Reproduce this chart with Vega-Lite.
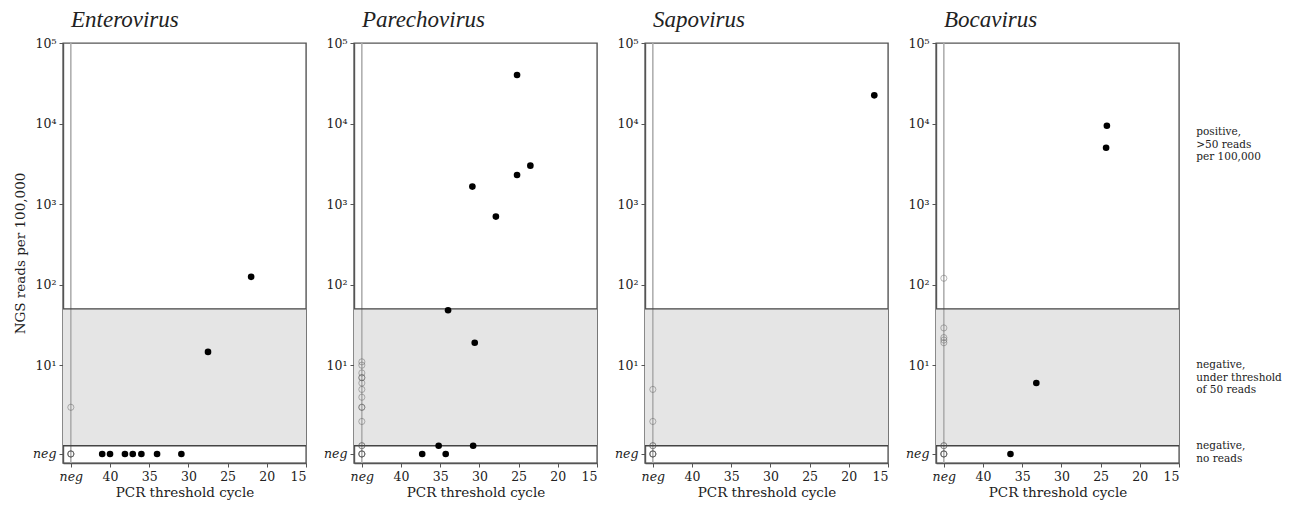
{
  "$schema": "https://vega.github.io/schema/vega-lite/v6.json",
  "background": "white",
  "padding": {"left": 12, "top": 8, "right": 5, "bottom": 3},
  "spacing": 48,
  "bounds": "flush",
  "datasets": {
    "band": [{"lo": 1, "hi": 50}],
    "hlines": [{"reads": 1}, {"reads": 50}],
    "vline": [{"ct": 45}],
    "notes": [
      {"note": "positive,\n>50 reads\nper 100,000", "reads": 9000},
      {"note": "negative,\nunder threshold\nof 50 reads", "reads": 11.5},
      {"note": "negative,\nno reads", "reads": 1.14}
    ],
    "samples": [
      {"virus": "Enterovirus", "pcr": "positive", "ct": 41.0, "reads": 0.79},
      {"virus": "Enterovirus", "pcr": "positive", "ct": 40.0, "reads": 0.79},
      {"virus": "Enterovirus", "pcr": "positive", "ct": 38.1, "reads": 0.79},
      {"virus": "Enterovirus", "pcr": "positive", "ct": 37.1, "reads": 0.79},
      {"virus": "Enterovirus", "pcr": "positive", "ct": 36.0, "reads": 0.79},
      {"virus": "Enterovirus", "pcr": "positive", "ct": 34.0, "reads": 0.79},
      {"virus": "Enterovirus", "pcr": "positive", "ct": 30.9, "reads": 0.79},
      {"virus": "Enterovirus", "pcr": "positive", "ct": 27.5, "reads": 14.6},
      {"virus": "Enterovirus", "pcr": "positive", "ct": 22.0, "reads": 125},
      {"virus": "Enterovirus", "pcr": "negative", "ct": 45, "reads": 3.0},
      {"virus": "Enterovirus", "pcr": "negative", "ct": 45, "reads": 0.79},
      {"virus": "Enterovirus", "pcr": "negative", "ct": 45, "reads": 0.79},
      {"virus": "Enterovirus", "pcr": "negative", "ct": 45, "reads": 0.79},
      {"virus": "Enterovirus", "pcr": "negative", "ct": 45, "reads": 0.79},

      {"virus": "Parechovirus", "pcr": "positive", "ct": 25.2, "reads": 40000},
      {"virus": "Parechovirus", "pcr": "positive", "ct": 23.5, "reads": 3000},
      {"virus": "Parechovirus", "pcr": "positive", "ct": 25.2, "reads": 2300},
      {"virus": "Parechovirus", "pcr": "positive", "ct": 30.9, "reads": 1650},
      {"virus": "Parechovirus", "pcr": "positive", "ct": 27.9, "reads": 700},
      {"virus": "Parechovirus", "pcr": "positive", "ct": 34.0, "reads": 48},
      {"virus": "Parechovirus", "pcr": "positive", "ct": 30.6, "reads": 19},
      {"virus": "Parechovirus", "pcr": "positive", "ct": 35.2, "reads": 1},
      {"virus": "Parechovirus", "pcr": "positive", "ct": 30.8, "reads": 1},
      {"virus": "Parechovirus", "pcr": "positive", "ct": 37.3, "reads": 0.79},
      {"virus": "Parechovirus", "pcr": "positive", "ct": 34.3, "reads": 0.79},
      {"virus": "Parechovirus", "pcr": "negative", "ct": 45, "reads": 11},
      {"virus": "Parechovirus", "pcr": "negative", "ct": 45, "reads": 10},
      {"virus": "Parechovirus", "pcr": "negative", "ct": 45, "reads": 8},
      {"virus": "Parechovirus", "pcr": "negative", "ct": 45, "reads": 7},
      {"virus": "Parechovirus", "pcr": "negative", "ct": 45, "reads": 7},
      {"virus": "Parechovirus", "pcr": "negative", "ct": 45, "reads": 6},
      {"virus": "Parechovirus", "pcr": "negative", "ct": 45, "reads": 5},
      {"virus": "Parechovirus", "pcr": "negative", "ct": 45, "reads": 4},
      {"virus": "Parechovirus", "pcr": "negative", "ct": 45, "reads": 3},
      {"virus": "Parechovirus", "pcr": "negative", "ct": 45, "reads": 3},
      {"virus": "Parechovirus", "pcr": "negative", "ct": 45, "reads": 2},
      {"virus": "Parechovirus", "pcr": "negative", "ct": 45, "reads": 1},
      {"virus": "Parechovirus", "pcr": "negative", "ct": 45, "reads": 1},
      {"virus": "Parechovirus", "pcr": "negative", "ct": 45, "reads": 0.79},
      {"virus": "Parechovirus", "pcr": "negative", "ct": 45, "reads": 0.79},
      {"virus": "Parechovirus", "pcr": "negative", "ct": 45, "reads": 0.79},
      {"virus": "Parechovirus", "pcr": "negative", "ct": 45, "reads": 0.79},

      {"virus": "Sapovirus", "pcr": "positive", "ct": 16.75, "reads": 22400},
      {"virus": "Sapovirus", "pcr": "negative", "ct": 45, "reads": 5},
      {"virus": "Sapovirus", "pcr": "negative", "ct": 45, "reads": 2},
      {"virus": "Sapovirus", "pcr": "negative", "ct": 45, "reads": 1},
      {"virus": "Sapovirus", "pcr": "negative", "ct": 45, "reads": 1},
      {"virus": "Sapovirus", "pcr": "negative", "ct": 45, "reads": 0.79},
      {"virus": "Sapovirus", "pcr": "negative", "ct": 45, "reads": 0.79},
      {"virus": "Sapovirus", "pcr": "negative", "ct": 45, "reads": 0.79},
      {"virus": "Sapovirus", "pcr": "negative", "ct": 45, "reads": 0.79},

      {"virus": "Bocavirus", "pcr": "positive", "ct": 24.2, "reads": 9400},
      {"virus": "Bocavirus", "pcr": "positive", "ct": 24.3, "reads": 5000},
      {"virus": "Bocavirus", "pcr": "positive", "ct": 33.2, "reads": 6},
      {"virus": "Bocavirus", "pcr": "positive", "ct": 36.5, "reads": 0.79},
      {"virus": "Bocavirus", "pcr": "negative", "ct": 45, "reads": 120},
      {"virus": "Bocavirus", "pcr": "negative", "ct": 45, "reads": 29},
      {"virus": "Bocavirus", "pcr": "negative", "ct": 45, "reads": 22},
      {"virus": "Bocavirus", "pcr": "negative", "ct": 45, "reads": 20.5},
      {"virus": "Bocavirus", "pcr": "negative", "ct": 45, "reads": 19},
      {"virus": "Bocavirus", "pcr": "negative", "ct": 45, "reads": 1},
      {"virus": "Bocavirus", "pcr": "negative", "ct": 45, "reads": 1},
      {"virus": "Bocavirus", "pcr": "negative", "ct": 45, "reads": 0.79},
      {"virus": "Bocavirus", "pcr": "negative", "ct": 45, "reads": 0.79},
      {"virus": "Bocavirus", "pcr": "negative", "ct": 45, "reads": 0.79},
      {"virus": "Bocavirus", "pcr": "negative", "ct": 45, "reads": 0.79}
    ]
  },
  "hconcat": [
    {
      "width": 243, "height": 420,
      "title": "Enterovirus",
      "layer": [
        {"data": {"name": "band"}, "mark": {"type": "rect", "color": "#e5e5e5"},
         "encoding": {
           "y": {"field": "lo", "type": "quantitative",
                 "scale": {"type": "log", "domain": [0.61, 100000], "nice": false},
                 "axis": {"values": [0.79, 10, 100, 1000, 10000, 100000], "grid": false, "title": "NGS reads per 100,000",
                          "labelExpr": "datum.value < 1 ? 'neg' : '10' + ['⁰','¹','²','³','⁴','⁵'][round(log(datum.value)/LN10)]",
                          "labelFontStyle": {"condition": {"test": "datum.value < 1", "value": "italic"}, "value": "normal"}}},
           "y2": {"field": "hi"}}},
        {"data": {"name": "vline"}, "mark": {"type": "rule", "color": "#aaaaaa", "strokeWidth": 1.5},
         "encoding": {
           "x": {"field": "ct", "type": "quantitative",
                 "scale": {"type": "linear", "domain": [15, 46], "reverse": true, "nice": false, "zero": false},
                 "axis": {"values": [45, 40, 35, 30, 25, 20, 15], "grid": false, "title": "PCR threshold cycle",
                          "labelExpr": "datum.value == 45 ? 'neg' : datum.label",
                          "labelFontStyle": {"condition": {"test": "datum.value == 45", "value": "italic"}, "value": "normal"}}}}},
        {"data": {"name": "hlines"}, "mark": {"type": "rule", "color": "#444444", "strokeWidth": 1.4},
         "encoding": {"y": {"field": "reads", "type": "quantitative"}}},
        {"data": {"name": "samples"}, "transform": [{"filter": "datum.virus == 'Enterovirus' && datum.pcr == 'negative'"}],
         "mark": {"type": "point", "filled": false, "color": "#555555", "strokeOpacity": 0.6, "strokeWidth": 1, "size": 38},
         "encoding": {"x": {"field": "ct", "type": "quantitative"},
                      "y": {"field": "reads", "type": "quantitative"}}},
        {"data": {"name": "samples"}, "transform": [{"filter": "datum.virus == 'Enterovirus' && datum.pcr == 'positive'"}],
         "mark": {"type": "circle", "color": "black", "opacity": 1, "size": 44},
         "encoding": {"x": {"field": "ct", "type": "quantitative"},
                      "y": {"field": "reads", "type": "quantitative"}}}
      ]
    },
    {
      "width": 243, "height": 420,
      "title": "Parechovirus",
      "layer": [
        {"data": {"name": "band"}, "mark": {"type": "rect", "color": "#e5e5e5"},
         "encoding": {
           "y": {"field": "lo", "type": "quantitative",
                 "scale": {"type": "log", "domain": [0.61, 100000], "nice": false},
                 "axis": {"values": [0.79, 10, 100, 1000, 10000, 100000], "grid": false, "title": null,
                          "labelExpr": "datum.value < 1 ? 'neg' : '10' + ['⁰','¹','²','³','⁴','⁵'][round(log(datum.value)/LN10)]",
                          "labelFontStyle": {"condition": {"test": "datum.value < 1", "value": "italic"}, "value": "normal"}}},
           "y2": {"field": "hi"}}},
        {"data": {"name": "vline"}, "mark": {"type": "rule", "color": "#aaaaaa", "strokeWidth": 1.5},
         "encoding": {
           "x": {"field": "ct", "type": "quantitative",
                 "scale": {"type": "linear", "domain": [15, 46], "reverse": true, "nice": false, "zero": false},
                 "axis": {"values": [45, 40, 35, 30, 25, 20, 15], "grid": false, "title": "PCR threshold cycle",
                          "labelExpr": "datum.value == 45 ? 'neg' : datum.label",
                          "labelFontStyle": {"condition": {"test": "datum.value == 45", "value": "italic"}, "value": "normal"}}}}},
        {"data": {"name": "hlines"}, "mark": {"type": "rule", "color": "#444444", "strokeWidth": 1.4},
         "encoding": {"y": {"field": "reads", "type": "quantitative"}}},
        {"data": {"name": "samples"}, "transform": [{"filter": "datum.virus == 'Parechovirus' && datum.pcr == 'negative'"}],
         "mark": {"type": "point", "filled": false, "color": "#555555", "strokeOpacity": 0.6, "strokeWidth": 1, "size": 38},
         "encoding": {"x": {"field": "ct", "type": "quantitative"},
                      "y": {"field": "reads", "type": "quantitative"}}},
        {"data": {"name": "samples"}, "transform": [{"filter": "datum.virus == 'Parechovirus' && datum.pcr == 'positive'"}],
         "mark": {"type": "circle", "color": "black", "opacity": 1, "size": 44},
         "encoding": {"x": {"field": "ct", "type": "quantitative"},
                      "y": {"field": "reads", "type": "quantitative"}}}
      ]
    },
    {
      "width": 243, "height": 420,
      "title": "Sapovirus",
      "layer": [
        {"data": {"name": "band"}, "mark": {"type": "rect", "color": "#e5e5e5"},
         "encoding": {
           "y": {"field": "lo", "type": "quantitative",
                 "scale": {"type": "log", "domain": [0.61, 100000], "nice": false},
                 "axis": {"values": [0.79, 10, 100, 1000, 10000, 100000], "grid": false, "title": null,
                          "labelExpr": "datum.value < 1 ? 'neg' : '10' + ['⁰','¹','²','³','⁴','⁵'][round(log(datum.value)/LN10)]",
                          "labelFontStyle": {"condition": {"test": "datum.value < 1", "value": "italic"}, "value": "normal"}}},
           "y2": {"field": "hi"}}},
        {"data": {"name": "vline"}, "mark": {"type": "rule", "color": "#aaaaaa", "strokeWidth": 1.5},
         "encoding": {
           "x": {"field": "ct", "type": "quantitative",
                 "scale": {"type": "linear", "domain": [15, 46], "reverse": true, "nice": false, "zero": false},
                 "axis": {"values": [45, 40, 35, 30, 25, 20, 15], "grid": false, "title": "PCR threshold cycle",
                          "labelExpr": "datum.value == 45 ? 'neg' : datum.label",
                          "labelFontStyle": {"condition": {"test": "datum.value == 45", "value": "italic"}, "value": "normal"}}}}},
        {"data": {"name": "hlines"}, "mark": {"type": "rule", "color": "#444444", "strokeWidth": 1.4},
         "encoding": {"y": {"field": "reads", "type": "quantitative"}}},
        {"data": {"name": "samples"}, "transform": [{"filter": "datum.virus == 'Sapovirus' && datum.pcr == 'negative'"}],
         "mark": {"type": "point", "filled": false, "color": "#555555", "strokeOpacity": 0.6, "strokeWidth": 1, "size": 38},
         "encoding": {"x": {"field": "ct", "type": "quantitative"},
                      "y": {"field": "reads", "type": "quantitative"}}},
        {"data": {"name": "samples"}, "transform": [{"filter": "datum.virus == 'Sapovirus' && datum.pcr == 'positive'"}],
         "mark": {"type": "circle", "color": "black", "opacity": 1, "size": 44},
         "encoding": {"x": {"field": "ct", "type": "quantitative"},
                      "y": {"field": "reads", "type": "quantitative"}}}
      ]
    },
    {
      "width": 243, "height": 420,
      "title": "Bocavirus",
      "layer": [
        {"data": {"name": "band"}, "mark": {"type": "rect", "color": "#e5e5e5"},
         "encoding": {
           "y": {"field": "lo", "type": "quantitative",
                 "scale": {"type": "log", "domain": [0.61, 100000], "nice": false},
                 "axis": {"values": [0.79, 10, 100, 1000, 10000, 100000], "grid": false, "title": null,
                          "labelExpr": "datum.value < 1 ? 'neg' : '10' + ['⁰','¹','²','³','⁴','⁵'][round(log(datum.value)/LN10)]",
                          "labelFontStyle": {"condition": {"test": "datum.value < 1", "value": "italic"}, "value": "normal"}}},
           "y2": {"field": "hi"}}},
        {"data": {"name": "vline"}, "mark": {"type": "rule", "color": "#aaaaaa", "strokeWidth": 1.5},
         "encoding": {
           "x": {"field": "ct", "type": "quantitative",
                 "scale": {"type": "linear", "domain": [15, 46], "reverse": true, "nice": false, "zero": false},
                 "axis": {"values": [45, 40, 35, 30, 25, 20, 15], "grid": false, "title": "PCR threshold cycle",
                          "labelExpr": "datum.value == 45 ? 'neg' : datum.label",
                          "labelFontStyle": {"condition": {"test": "datum.value == 45", "value": "italic"}, "value": "normal"}}}}},
        {"data": {"name": "hlines"}, "mark": {"type": "rule", "color": "#444444", "strokeWidth": 1.4},
         "encoding": {"y": {"field": "reads", "type": "quantitative"}}},
        {"data": {"name": "samples"}, "transform": [{"filter": "datum.virus == 'Bocavirus' && datum.pcr == 'negative'"}],
         "mark": {"type": "point", "filled": false, "color": "#555555", "strokeOpacity": 0.6, "strokeWidth": 1, "size": 38},
         "encoding": {"x": {"field": "ct", "type": "quantitative"},
                      "y": {"field": "reads", "type": "quantitative"}}},
        {"data": {"name": "samples"}, "transform": [{"filter": "datum.virus == 'Bocavirus' && datum.pcr == 'positive'"}],
         "mark": {"type": "circle", "color": "black", "opacity": 1, "size": 44},
         "encoding": {"x": {"field": "ct", "type": "quantitative"},
                      "y": {"field": "reads", "type": "quantitative"}}},
        {"data": {"name": "notes"},
         "mark": {"type": "text", "align": "left", "baseline": "top", "lineBreak": "\n", "fontSize": 10.5, "lineHeight": 12.5, "color": "#222222", "font": "DejaVu Serif"},
         "encoding": {"x": {"datum": 12.8, "type": "quantitative"},
                      "y": {"field": "reads", "type": "quantitative"},
                      "text": {"field": "note", "type": "nominal"}}}
      ]
    }
  ],
  "config": {
    "font": "DejaVu Serif",
    "view": {"stroke": "#555555", "strokeWidth": 1.4},
    "axis": {
      "labelFont": "DejaVu Serif", "labelFontSize": 12.5, "labelColor": "#222222",
      "titleFont": "DejaVu Serif", "titleFontSize": 13.5, "titleFontWeight": "normal", "titleColor": "#222222",
      "domainColor": "#555555", "domainWidth": 1.4, "tickColor": "#555555", "tickSize": 4, "labelPadding": 3
    },
    "axisX": {"titlePadding": 3},
    "axisY": {"titlePadding": 5},
    "title": {"font": "Liberation Serif", "fontStyle": "italic", "fontSize": 23, "fontWeight": "normal", "color": "#222222", "anchor": "start", "frame": "group", "offset": 5, "dx": 8}
  }
}
